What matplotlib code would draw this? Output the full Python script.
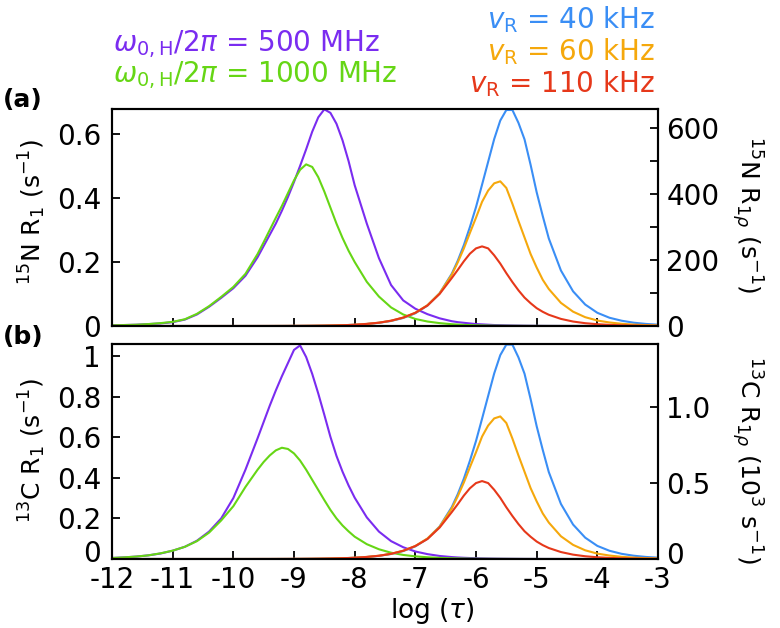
import matplotlib
matplotlib.use("Agg")
import matplotlib.pyplot as plt
from matplotlib.transforms import ScaledTranslation

plt.rcParams['font.family'] = ['DejaVu Sans']
plt.rcParams['mathtext.fontset'] = 'dejavusans'
plt.rcParams['axes.unicode_minus'] = False

# log(tau) sampling (finer around the peaks)
log_tau = [-12.0, -11.8, -11.6, -11.4, -11.2, -11.0, -10.8, -10.6, -10.4, -10.2, -10.0, -9.8, -9.6,
           -9.5, -9.4, -9.3, -9.2, -9.1, -9.0, -8.9, -8.8, -8.7, -8.6, -8.5, -8.4, -8.3, -8.2, -8.1, -8.0,
           -7.8, -7.6, -7.4, -7.2, -7.0, -6.8, -6.6, -6.4,
           -6.3, -6.2, -6.1, -6.0, -5.9, -5.8, -5.7, -5.6, -5.5, -5.4, -5.3, -5.2, -5.1, -5.0, -4.9, -4.8,
           -4.6, -4.4, -4.2, -4.0, -3.8, -3.6, -3.4, -3.2, -3.0]

# (a) 15N R1 (s^-1), left axis
n15_r1_500 = [0.002, 0.003, 0.004, 0.006, 0.008, 0.012, 0.020, 0.036, 0.060, 0.088, 0.118, 0.157, 0.215,
              0.250, 0.285, 0.320, 0.360, 0.403, 0.450, 0.500, 0.552, 0.607, 0.652, 0.677, 0.666, 0.632, 0.580, 0.515, 0.440,
              0.320, 0.212, 0.128, 0.080, 0.054, 0.037, 0.024, 0.015,
              0.012, 0.010, 0.008, 0.006, 0.005, 0.004, 0.003, 0.0025, 0.002, 0.0016, 0.0013, 0.001, 0.0008, 0.0006, 0.0005, 0.0004,
              0.0003, 0.0002, 0.0001, 0.0001, 0, 0, 0, 0, 0]
n15_r1_1000 = [0.002, 0.003, 0.004, 0.006, 0.009, 0.013, 0.021, 0.038, 0.062, 0.091, 0.122, 0.163, 0.225,
               0.262, 0.300, 0.338, 0.375, 0.415, 0.455, 0.488, 0.505, 0.497, 0.465, 0.420, 0.370, 0.320, 0.275, 0.235, 0.200,
               0.138, 0.092, 0.058, 0.036, 0.022, 0.014, 0.009, 0.0056,
               0.0045, 0.0035, 0.0028, 0.0022, 0.0018, 0.0014, 0.0011, 0.0009, 0.0007, 0.0006, 0.0005, 0.0004, 0.0003, 0.0003, 0.0002, 0.0002,
               0.0001, 0.0001, 0, 0, 0, 0, 0, 0, 0]

# (a) 15N R1rho (s^-1), right axis
n15_r1rho_40 = [0, 0, 0, 0, 0, 0, 0.01, 0.01, 0.02, 0.02, 0.04, 0.06, 0.1,
                0.12, 0.15, 0.19, 0.24, 0.3, 0.38, 0.48, 0.6, 0.75, 0.95, 1.2, 1.5, 1.9, 2.4, 3.0, 3.8,
                6.0, 9.6, 15.2, 24.2, 38.5, 62, 99, 158,
                198, 245, 300, 360, 428, 497, 566, 622, 654, 654, 615, 565, 488, 405, 333, 265,
                168, 105, 65, 40, 25, 16, 10, 6.3, 4.0]
n15_r1rho_60 = [0, 0, 0, 0, 0, 0, 0.01, 0.01, 0.02, 0.03, 0.04, 0.06, 0.1,
                0.12, 0.15, 0.19, 0.24, 0.3, 0.38, 0.48, 0.6, 0.75, 0.95, 1.2, 1.5, 1.9, 2.4, 3.0, 3.8,
                6.3, 10, 16, 25.3, 40, 63, 99, 155,
                193, 235, 282, 328, 376, 410, 432, 438, 418, 370, 318, 268, 218, 177, 140, 112,
                70, 43.4, 26.7, 16.6, 10.7, 6.7, 4.2, 2.7, 1.7]
n15_r1rho_110 = [0, 0, 0, 0, 0, 0, 0.01, 0.01, 0.02, 0.03, 0.04, 0.06, 0.1,
                 0.12, 0.15, 0.19, 0.24, 0.3, 0.38, 0.48, 0.6, 0.75, 0.95, 1.2, 1.5, 1.9, 2.4, 3.0, 3.8,
                 6.4, 10, 16, 25.5, 40, 62, 97, 145,
                 170, 196, 219, 235, 241, 235, 214, 189, 160, 133, 108, 86, 69, 54, 43, 34,
                 21.5, 13.5, 8.5, 5.4, 3.4, 2.1, 1.35, 0.85, 0.55]

# (b) 13C R1 (s^-1), left axis
c13_r1_500 = [0.005, 0.008, 0.012, 0.018, 0.027, 0.041, 0.060, 0.090, 0.135, 0.200, 0.300, 0.440, 0.595,
              0.675, 0.755, 0.830, 0.900, 0.965, 1.030, 1.052, 0.995, 0.912, 0.815, 0.710, 0.602, 0.508, 0.430, 0.362, 0.302,
              0.205, 0.135, 0.088, 0.058, 0.037, 0.024, 0.015, 0.0095,
              0.0075, 0.006, 0.0048, 0.0038, 0.003, 0.0024, 0.0019, 0.0015, 0.0012, 0.001, 0.0008, 0.0006, 0.0005, 0.0004, 0.0003, 0.0003,
              0.0002, 0.0001, 0.0001, 0, 0, 0, 0, 0, 0]
c13_r1_1000 = [0.005, 0.008, 0.012, 0.018, 0.028, 0.041, 0.060, 0.088, 0.130, 0.190, 0.260, 0.355, 0.440,
               0.478, 0.510, 0.535, 0.548, 0.542, 0.520, 0.485, 0.440, 0.390, 0.340, 0.290, 0.242, 0.200, 0.165, 0.136, 0.110,
               0.073, 0.048, 0.031, 0.020, 0.013, 0.0085, 0.0055, 0.0035,
               0.0028, 0.0022, 0.0018, 0.0014, 0.0011, 0.0009, 0.0007, 0.0006, 0.0005, 0.0004, 0.0003, 0.0002, 0.0002, 0.0001, 0.0001, 0.0001,
               0, 0, 0, 0, 0, 0, 0, 0, 0]

# (b) 13C R1rho (10^3 s^-1), right axis
c13_r1rho_40 = [0, 0, 0, 0, 0, 0, 0, 0, 0, 0, 0.0001, 0.0001, 0.0002,
                0.0003, 0.0003, 0.0004, 0.0005, 0.0006, 0.0008, 0.001, 0.0013, 0.0016, 0.002, 0.0026, 0.0032, 0.0041, 0.0052, 0.0065, 0.0082,
                0.0129, 0.0206, 0.0327, 0.052, 0.0828, 0.133, 0.213, 0.340,
                0.426, 0.527, 0.645, 0.774, 0.920, 1.069, 1.217, 1.337, 1.406, 1.406, 1.322, 1.215, 1.049, 0.871, 0.716, 0.570,
                0.361, 0.226, 0.140, 0.086, 0.054, 0.034, 0.0215, 0.0135, 0.0086]
c13_r1rho_60 = [0, 0, 0, 0, 0, 0, 0, 0, 0, 0, 0.0001, 0.0001, 0.0002,
                0.0003, 0.0003, 0.0004, 0.0005, 0.0006, 0.0008, 0.001, 0.0013, 0.0016, 0.002, 0.0026, 0.0032, 0.0041, 0.0052, 0.0065, 0.0082,
                0.0135, 0.0214, 0.0342, 0.054, 0.0854, 0.1345, 0.211, 0.331,
                0.412, 0.502, 0.602, 0.700, 0.803, 0.875, 0.922, 0.935, 0.892, 0.790, 0.679, 0.572, 0.465, 0.378, 0.299, 0.239,
                0.149, 0.0927, 0.057, 0.0354, 0.0228, 0.0143, 0.009, 0.0058, 0.0036]
c13_r1rho_110 = [0, 0, 0, 0, 0, 0, 0, 0, 0, 0, 0.0001, 0.0001, 0.0002,
                 0.0003, 0.0003, 0.0004, 0.0005, 0.0006, 0.0008, 0.001, 0.0013, 0.0016, 0.002, 0.0026, 0.0032, 0.0041, 0.0052, 0.0065, 0.0082,
                 0.0136, 0.0212, 0.0339, 0.054, 0.0848, 0.131, 0.206, 0.307,
                 0.360, 0.416, 0.464, 0.498, 0.511, 0.498, 0.454, 0.401, 0.339, 0.282, 0.229, 0.182, 0.146, 0.1145, 0.091, 0.072,
                 0.0456, 0.0286, 0.018, 0.0114, 0.0072, 0.0045, 0.0029, 0.0018, 0.0012]

purple = '#7a2cf0'
green = '#66d615'
blue = '#3a8ef5'
orange = '#f5a80c'
red = '#e6381a'

LW = 1.5
FS = 20
W, H = 780, 628


def fx(px):
    return px / W


def fy(py):
    return 1 - py / H


fig = plt.figure(figsize=(7.8, 6.28), dpi=100)
ax_a = fig.add_axes([fx(112), fy(326), fx(546), 217 / H])
ax_b = fig.add_axes([fx(112), fy(559), fx(546), 215 / H])
ax_ar = ax_a.twinx()
ax_br = ax_b.twinx()

ax_ar.plot(log_tau, n15_r1rho_40, color=blue, lw=LW)
ax_ar.plot(log_tau, n15_r1rho_60, color=orange, lw=LW)
ax_ar.plot(log_tau, n15_r1rho_110, color=red, lw=LW)
ax_a.plot(log_tau, n15_r1_500, color=purple, lw=LW)
ax_a.plot(log_tau, n15_r1_1000, color=green, lw=LW)

ax_br.plot(log_tau, c13_r1rho_40, color=blue, lw=LW)
ax_br.plot(log_tau, c13_r1rho_60, color=orange, lw=LW)
ax_br.plot(log_tau, c13_r1rho_110, color=red, lw=LW)
ax_b.plot(log_tau, c13_r1_500, color=purple, lw=LW)
ax_b.plot(log_tau, c13_r1_1000, color=green, lw=LW)

ax_a.set_ylim(0, 0.678)
ax_ar.set_ylim(0, 657)
ax_b.set_ylim(0, 1.059)
ax_br.set_ylim(0, 1.41)

for ax in (ax_a, ax_b):
    ax.set_xlim(-12, -3)
    ax.set_xticks(range(-12, -2))
    ax.tick_params(axis='x', direction='in', length=6, width=1.3, labelsize=FS, pad=5, top=False)
    ax.tick_params(axis='y', direction='in', length=6, width=1.3, labelsize=FS, pad=8)
for ax in (ax_ar, ax_br):
    ax.tick_params(axis='y', direction='in', length=6, width=1.3, labelsize=FS, pad=6)
    ax.tick_params(axis='y', which='minor', direction='in', length=6, width=1.3)
for ax in (ax_a, ax_b, ax_ar, ax_br):
    for s in ax.spines.values():
        s.set_linewidth(1.5)

ax_a.tick_params(axis='x', labelbottom=False)
ax_b.set_xticklabels(['-12', '-11', '-10', '-9', '-8', '-7', '-6', '-5', '-4', '-3'])

ax_a.set_yticks([0, 0.2, 0.4, 0.6])
ax_a.set_yticklabels(['0', '0.2', '0.4', '0.6'])
ax_ar.set_yticks([0, 200, 400, 600])
ax_ar.set_yticks([100, 300, 500], minor=True)
ax_b.set_yticks([0, 0.2, 0.4, 0.6, 0.8, 1.0])
ax_b.set_yticklabels(['0', '0.2', '0.4', '0.6', '0.8', '1'])
ax_br.set_yticks([0, 0.5, 1.0])
ax_br.set_yticklabels(['0', '0.5', '1.0'])

# lift the bottom "0" labels a little so they clear the x tick labels
for ax, dy in ((ax_b, 6), (ax_br, 4)):
    lift = ScaledTranslation(0, dy / 72, fig.dpi_scale_trans)
    tick0 = ax.yaxis.get_major_ticks()[0]
    for lab in (tick0.label1, tick0.label2):
        lab.set_transform(lab.get_transform() + lift)

# axis titles
fig.text(fx(32), fy(212), r'$^{15}$N R$_1$ (s$^{-1}$)', fontsize=18, rotation=90, ha='center', va='center')
fig.text(fx(32), fy(450), r'$^{13}$C R$_1$ (s$^{-1}$)', fontsize=18, rotation=90, ha='center', va='center')
fig.text(fx(747), fy(215), r'$^{15}$N R$_{1\rho}$ (s$^{-1}$)', fontsize=18, rotation=270, ha='center', va='center')
fig.text(fx(747), fy(460), r'$^{13}$C R$_{1\rho}$ (10$^3$ s$^{-1}$)', fontsize=18, rotation=270, ha='center', va='center')
fig.text(fx(432), fy(611), r'log ($\tau$)', fontsize=19, ha='center', va='center')

fig.text(fx(3), fy(100), '(a)', fontsize=18, fontweight='bold', va='center', ha='left')
fig.text(fx(3), fy(337), '(b)', fontsize=18, fontweight='bold', va='center', ha='left')

# legend text
fig.text(fx(113), fy(51), r'$\omega_{\rm 0,H}$/2$\pi$ = 500 MHz', color=purple,
         fontsize=20, ha='left', va='baseline')
fig.text(fx(113), fy(82), r'$\omega_{\rm 0,H}$/2$\pi$ = 1000 MHz', color=green,
         fontsize=20, ha='left', va='baseline')
fig.text(fx(655), fy(28), r'$v_{\rm R}$ = 40 kHz', color=blue,
         fontsize=20, ha='right', va='baseline')
fig.text(fx(655), fy(60), r'$v_{\rm R}$ = 60 kHz', color=orange,
         fontsize=20, ha='right', va='baseline')
fig.text(fx(655), fy(92), r'$v_{\rm R}$ = 110 kHz', color=red,
         fontsize=20, ha='right', va='baseline')

fig.savefig('out.png', dpi=100)
